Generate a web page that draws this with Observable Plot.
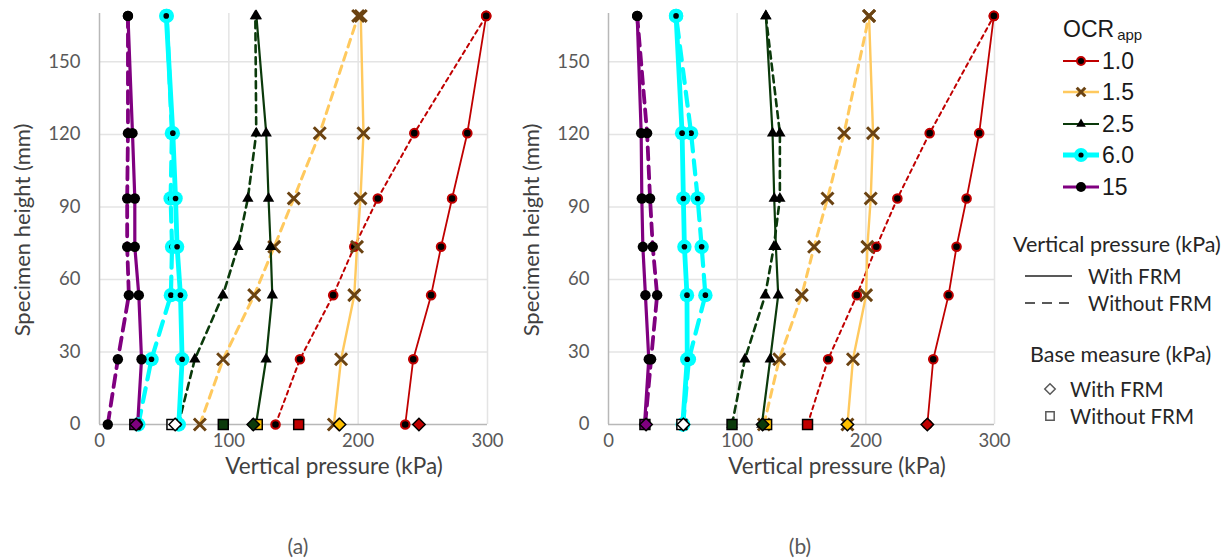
<!DOCTYPE html>
<html>
<head>
<meta charset="utf-8">
<script src="https://cdn.jsdelivr.net/npm/d3@7"></script>
<script src="https://cdn.jsdelivr.net/npm/@observablehq/plot@0.6"></script>
<style>
  body { margin: 0; background: #fff; }
  #root { position: relative; width: 1229px; height: 559px; overflow: hidden; font-family: Lato, "Open Sans", sans-serif; }
  .panel { position: absolute; top: 0; }
  .t { position: absolute; white-space: nowrap; transform: translate(-50%, -50%); line-height: 1; }
  .tl { position: absolute; white-space: nowrap; transform: translate(0, -50%); line-height: 1; }
  .ylab { position: absolute; white-space: nowrap; transform: translate(-50%, -50%) rotate(-90deg); line-height: 1; font-size: 22px; color: #404040; }
  .xlab { font-size: 22.5px; color: #404040; }
  .cap { font-size: 21px; color: #595959; }
  .leg { font-family: "Liberation Sans", Arial, sans-serif; font-size: 23px; color: #1a1a1a; }
  .leg2 { font-size: 20.5px; color: #262626; }
  .leg3 { font-size: 21.5px; color: #262626; }
  svg.sw { position: absolute; overflow: visible; }
</style>
</head>
<body>
<div id="root"></div>
<script>
// ---------- data ----------
const heights = [0, 27, 53.5, 73.5, 93.5, 120.5, 169];
const ocrLabels = ["1.0", "1.5", "2.5", "6.0", "15"];
const xTicks = [0, 100, 200, 300];
const yTicks = [0, 30, 60, 90, 120, 150];

// Panel (a): vertical pressure (kPa) per height, with / without FRM
const aWith10 = [236.4, 242.6, 256.4, 264.1, 272.6, 284.4, 299];
const aWith15 = [181.2, 186.8, 197, 199.1, 201.8, 204.1, 202];
const aWith25 = [121, 128.8, 133.6, 132.3, 130.7, 128.9, 121.3];
const aWith60 = [61.3, 63.9, 62.6, 60, 58.8, 56.7, 51.6];
const aWith150 = [29.5, 32.5, 30.4, 27.3, 27.3, 25.5, 22];
const aWithout10 = [136.1, 155, 180.7, 197, 215.2, 243.4, 299];
const aWithout15 = [77.6, 95.6, 119.6, 135.1, 150.2, 170.3, 200];
const aWithout25 = [61, 73.7, 95.4, 107, 114.7, 121.2, 120.5];
const aWithout60 = [30, 40.2, 55.2, 56.1, 55, 56, 52];
const aWithout150 = [6.4, 14.2, 22.7, 21.4, 21.4, 22, 22];
const aBaseWith = [247, 185.6, 118.9, 58.5, 28.4];
const aBaseWithout = [154, 122, 95.7, 56, 27.3];

// Panel (b)
const bWith10 = [247.8, 252.4, 264.3, 270.5, 278.3, 288.1, 299.5];
const bWith15 = [185.7, 190, 200.2, 201.2, 203.8, 205.6, 202.5];
const bWith25 = [119.2, 125.7, 131.9, 130.1, 128.8, 127.5, 122.3];
const bWith60 = [57.7, 61.2, 61, 59, 58.2, 57.2, 52.5];
const bWith150 = [28, 31.3, 28.7, 26.7, 25.9, 25.4, 22.3];
const bWithout10 = [154.7, 170.7, 193, 208.2, 224.5, 249.6, 299.5];
const bWithout15 = [120.8, 132.7, 150.2, 159.8, 170.2, 183.1, 202.5];
const bWithout25 = [96, 106, 121.8, 128.5, 133.2, 133.2, 122.3];
const bWithout60 = [58, 62.5, 75.3, 72.4, 69.3, 64.2, 52.5];
const bWithout150 = [28.5, 33.1, 37.8, 34.4, 32.3, 30, 22.3];
const bBaseWith = [247.8, 185.7, 119.8, 58.2, 29.2];
const bBaseWithout = [154.7, 122.9, 96, 57, 28.3];

// ---------- styles ----------
const lineColor = {"1.0": "#c00000", "1.5": "#ffc95e", "2.5": "#0b3a0b", "6.0": "#00ffff", "15": "#800080"};
const lineWidth = {"1.0": 1.8, "1.5": 2.4, "2.5": 2.2, "6.0": 4.8, "15": 3.2};
const dashW = {"1.0": 2, "1.5": 3, "2.5": 2.6, "6.0": 4.2, "15": 3.8};
const dashPat = {"1.0": "4,4", "1.5": "8,6", "2.5": "7,5", "6.0": "14,9", "15": "12,7"};
const baseFill = {"1.0": "#c00000", "1.5": "#ffc000", "2.5": "#0b3a0b", "6.0": "#ffffff", "15": "#800080"};

function rowsOf(vals) { return vals.map((v, i) => ({v, h: heights[i]})); }

function markerMarks(ocr, data) {
  switch (ocr) {
    case "1.0": return [Plot.dot(data, {x: "v", y: "h", r: 4.3, fill: "#000", stroke: "#c00000", strokeWidth: 2})];
    case "1.5": return [Plot.dot(data, {x: "v", y: "h", symbol: "times", r: 5.5, stroke: "#6b4312", strokeWidth: 3})];
    case "2.5": return [Plot.dot(data, {x: "v", y: "h", symbol: "triangle", r: 4.2, fill: "#000"})];
    case "6.0": return [Plot.dot(data, {x: "v", y: "h", r: 7.2, fill: "#00ffff"}), Plot.dot(data, {x: "v", y: "h", r: 2.8, fill: "#000"})];
    default: return [Plot.dot(data, {x: "v", y: "h", r: 5.2, fill: "#000"})];
  }
}

function makePanel(withArrs, withoutArrs, baseWith, baseWithout, width) {
  const lines = [], markers = [];
  ocrLabels.forEach((ocr, i) => {
    const dW = rowsOf(withArrs[i]);
    const dN = rowsOf(withoutArrs[i]);
    lines.push(Plot.line(dN, {x: "v", y: "h", stroke: lineColor[ocr], strokeWidth: dashW[ocr], strokeDasharray: dashPat[ocr]}));
    lines.push(Plot.line(dW, {x: "v", y: "h", stroke: lineColor[ocr], strokeWidth: lineWidth[ocr]}));
    markers.push(...markerMarks(ocr, dN), ...markerMarks(ocr, dW));
  });
  const baseW = ocrLabels.map((o, i) => ({o, v: baseWith[i], h: 0}));
  const baseN = ocrLabels.map((o, i) => ({o, v: baseWithout[i], h: 0}));
  return Plot.plot({
    width, height: 450,
    marginLeft: 99, marginRight: 13, marginTop: 13, marginBottom: 26,
    style: {fontFamily: "Lato, 'Open Sans', sans-serif", fontSize: "18.5px", color: "#595959", background: "transparent", overflow: "visible"},
    x: {domain: [0, 300], ticks: xTicks, tickSize: 0, tickPadding: 9, label: null},
    y: {domain: [0, 170], ticks: yTicks, tickSize: 0, tickPadding: 19, label: null},
    marks: [
      Plot.ruleX(xTicks.filter(d => d > 0), {stroke: "#e4e4e4", strokeWidth: 1.5}),
      Plot.ruleY(yTicks.filter(d => d > 0), {stroke: "#e4e4e4", strokeWidth: 1.5}),
      Plot.ruleX([0], {stroke: "#b8b8b8", strokeWidth: 1.5}),
      Plot.ruleY([0], {stroke: "#b8b8b8", strokeWidth: 1.5}),
      ...lines,
      ...markers,
      Plot.dot(baseN, {x: "v", y: "h", symbol: "square", r: 5.6, fill: d => baseFill[d.o], stroke: "#000", strokeWidth: 1.5}),
      Plot.dot(baseW, {x: "v", y: "h", symbol: "diamond2", r: 5.6, fill: d => baseFill[d.o], stroke: "#000", strokeWidth: 1.5})
    ]
  });
}

const root = document.getElementById("root");

const pa = makePanel([aWith10, aWith15, aWith25, aWith60, aWith150], [aWithout10, aWithout15, aWithout25, aWithout60, aWithout150], aBaseWith, aBaseWithout, 500);
pa.classList.add("panel"); pa.style.left = "0px";
root.appendChild(pa);
const pb = makePanel([bWith10, bWith15, bWith25, bWith60, bWith150], [bWithout10, bWithout15, bWithout25, bWithout60, bWithout150], bBaseWith, bBaseWithout, 498);
pb.classList.add("panel"); pb.style.left = "509px";
root.appendChild(pb);

function addText(cls, txt, x, y, extra) {
  const d = document.createElement("div");
  d.className = cls; d.textContent = txt;
  d.style.left = x + "px"; d.style.top = y + "px";
  if (extra) Object.assign(d.style, extra);
  root.appendChild(d);
  return d;
}

// axis titles & captions
addText("ylab", "Specimen  height (mm)", 22, 230);
addText("ylab", "Specimen  height (mm)", 531, 230);
addText("t xlab", "Vertical pressure (kPa)", 334, 466);
addText("t xlab", "Vertical pressure (kPa)", 837, 466);
addText("t cap", "(a)", 298, 545);
addText("t cap", "(b)", 800, 545);

// legend: OCR_app
const title = addText("tl leg", "", 1063, 30);
title.innerHTML = 'OCR<span style="font-size:15px;vertical-align:-3px;margin-left:3px">app</span>';
const legY = [61, 92, 124, 155, 187];
ocrLabels.forEach((ocr, i) => {
  const y = legY[i];
  const s = d3.select(root).append("svg").attr("class", "sw")
    .style("left", "1060px").style("top", (y - 10) + "px").attr("width", 42).attr("height", 20);
  s.append("line").attr("x1", 3).attr("x2", 39).attr("y1", 10).attr("y2", 10)
    .attr("stroke", lineColor[ocr]).attr("stroke-width", lineWidth[ocr]);
  const cx = 21, cy = 10;
  if (ocr === "1.0") s.append("circle").attr("cx", cx).attr("cy", cy).attr("r", 4).attr("fill", "#000").attr("stroke", "#c00000").attr("stroke-width", 2);
  else if (ocr === "1.5") s.append("path").attr("d", d3.symbol(d3.symbolTimes, 50)()).attr("transform", `translate(${cx},${cy})`).attr("stroke", "#6b4312").attr("stroke-width", 3).attr("fill", "none");
  else if (ocr === "2.5") s.append("path").attr("d", d3.symbol(d3.symbolTriangle, 40)()).attr("transform", `translate(${cx},${cy})`).attr("fill", "#000");
  else if (ocr === "6.0") { s.append("circle").attr("cx", cx).attr("cy", cy).attr("r", 7).attr("fill", "#00ffff"); s.append("circle").attr("cx", cx).attr("cy", cy).attr("r", 2.6).attr("fill", "#000"); }
  else s.append("circle").attr("cx", cx).attr("cy", cy).attr("r", 5).attr("fill", "#000");
  addText("tl leg", ocr, 1102, y);
});

// legend: vertical pressure line styles
addText("tl leg3", "Vertical pressure (kPa)", 1013, 245);
const lineKinds = [["With FRM", null, 276], ["Without FRM", "10,7", 303]];
lineKinds.forEach(([lab, dash, y]) => {
  const s = d3.select(root).append("svg").attr("class", "sw")
    .style("left", "1022px").style("top", (y - 5) + "px").attr("width", 54).attr("height", 10);
  const l = s.append("line").attr("x1", 3).attr("x2", 50).attr("y1", 5).attr("y2", 5)
    .attr("stroke", "#595959").attr("stroke-width", 2);
  if (dash) l.attr("stroke-dasharray", dash);
  addText("tl leg2", lab, 1088, y);
});

// legend: base measure
addText("tl leg3", "Base measure (kPa)", 1030, 355);
const baseKinds = [["With FRM", d3.symbolDiamond2, 389], ["Without FRM", d3.symbolSquare, 416]];
baseKinds.forEach(([lab, sym, y]) => {
  const s = d3.select(root).append("svg").attr("class", "sw")
    .style("left", "1040px").style("top", (y - 10) + "px").attr("width", 20).attr("height", 20);
  s.append("path").attr("d", d3.symbol(sym, 70)()).attr("transform", "translate(10,10)")
    .attr("fill", "none").attr("stroke", "#595959").attr("stroke-width", 1.5);
  addText("tl leg2", lab, 1070, y);
});
</script>
</body>
</html>
